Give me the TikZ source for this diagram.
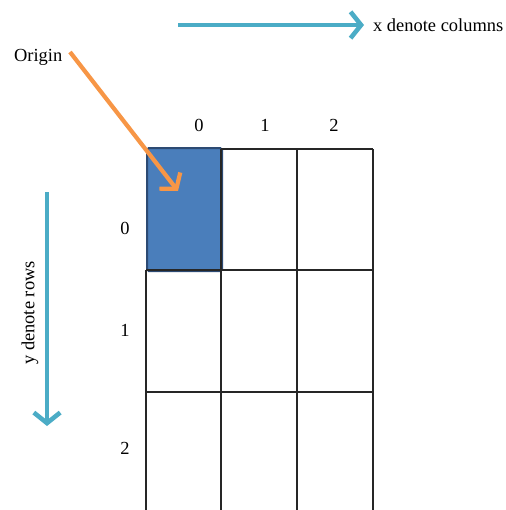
\documentclass[tikz,border=0pt]{standalone}
\usepackage{fontspec}
\setmainfont{Liberation Serif}
\usetikzlibrary{arrows.meta,positioning}
\definecolor{cellblue}{HTML}{4A7EBB}
\definecolor{celledge}{HTML}{2C4A73}
\definecolor{axisteal}{HTML}{4BACC6}
\definecolor{originorange}{HTML}{F79646}
\tikzset{
	gridline/.style={line width=1.1pt,black!85},
	axisarrow/.style={line width=2.6pt,axisteal,-{Straight Barb[length=6pt,width=15pt]}},
	originarrow/.style={line width=2.4pt,originorange,-{Straight Barb[length=6pt,width=15pt]}},
	lbl/.style={inner sep=1pt,font=\fontsize{10.5}{12}\selectfont}
}
\begin{document}
\begin{tikzpicture}[x=0.02cm,y=-0.02cm]
	\useasboundingbox (0,0) rectangle (506,510);
	
	% origin cell
	\node[draw=celledge,fill=cellblue,line width=1.2pt,rounded corners=1pt,
		inner sep=0pt,anchor=north west,
		minimum width=1.5cm,minimum height=2.46cm] (cell00) at (146,147) {};
	
	% grid lines
	\draw[gridline] (221,149) -- (373,149);
	\draw[gridline] (146,270) -- (373,270);
	\draw[gridline] (146,392) -- (373,392);
	\draw[gridline] (146,270) -- (146,510);
	\draw[gridline] (221,149) -- (221,510);
	\draw[gridline] (297,149) -- (297,510);
	\draw[gridline] (373,149) -- (373,510);
	
	% column and row indices
	\node[lbl] (col0) at (199,125) {0};
	\node[lbl] (col1) at (265,125) {1};
	\node[lbl] (col2) at (334,125) {2};
	\node[lbl] (row0) at (125,228) {0};
	\node[lbl] (row1) at (125,330) {1};
	\node[lbl] (row2) at (125,448) {2};
	
	% x direction
	\coordinate (xstart) at (178,25);
	\node[lbl,anchor=west,inner xsep=5pt] (xtext) at (364,25) {x denote columns};
	\draw[axisarrow] (xstart) -- (xtext.west);
	
	% y direction
	\coordinate (ystart) at (47,192);
	\coordinate (yend) at (47,426);
	\node[lbl,rotate=90] (ytext) at (30,313) {y denote rows};
	\draw[axisarrow] (ystart) -- (yend);
	
	% origin
	\node[lbl,anchor=west] (origin) at (12,57) {Origin};
	\coordinate (origintip) at (178,191);
	\draw[originarrow] (70,52) -- (origintip);
\end{tikzpicture}
\end{document}
